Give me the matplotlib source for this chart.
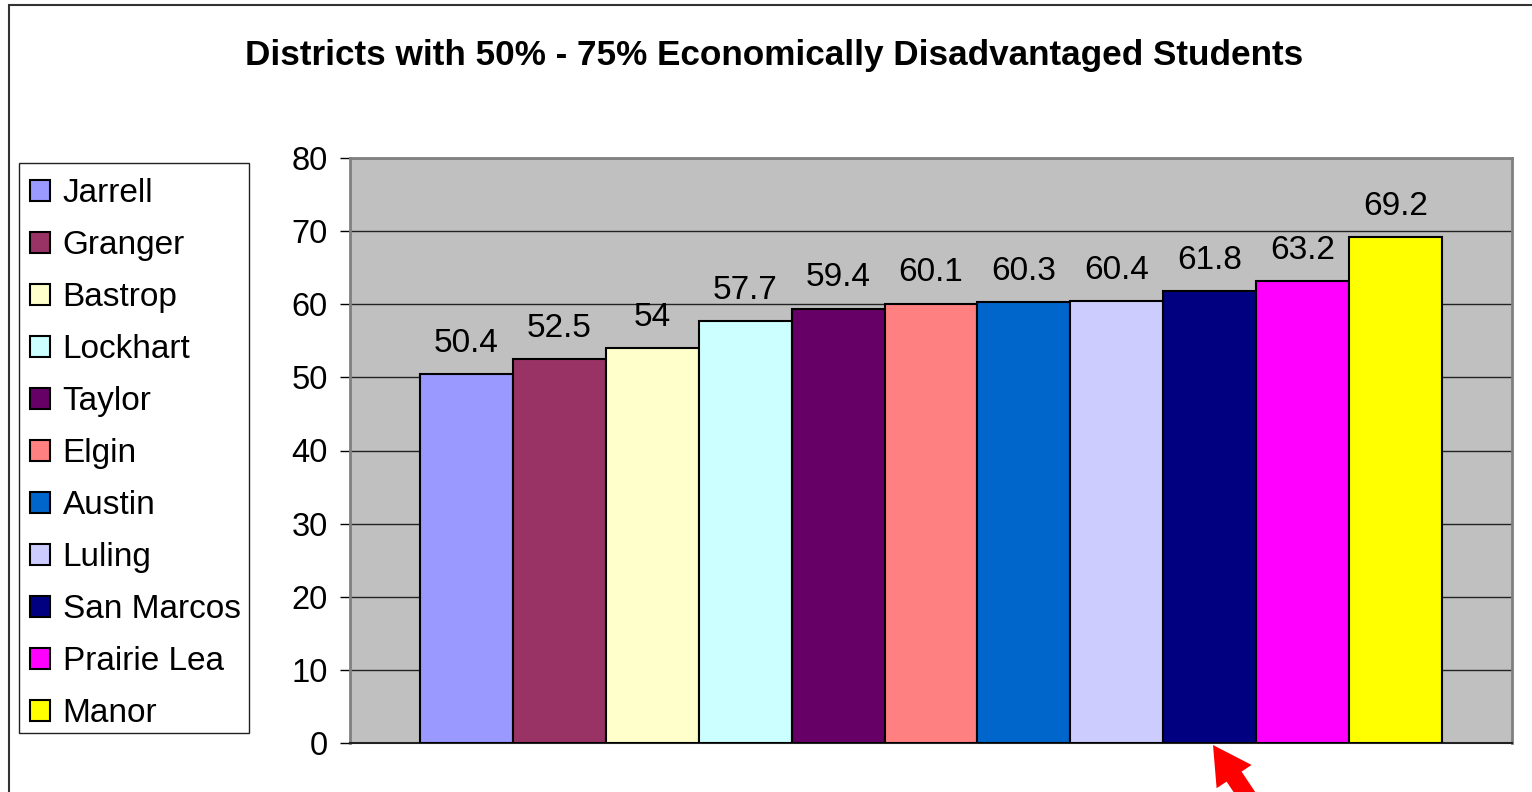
import matplotlib
matplotlib.use("Agg")
from matplotlib import pyplot as plt
from matplotlib.patches import Rectangle, FancyArrow
from matplotlib.transforms import IdentityTransform
import numpy as np

plt.rcParams["font.family"] = ["Liberation Sans", "DejaVu Sans"]

districts = ["Jarrell", "Granger", "Bastrop", "Lockhart", "Taylor", "Elgin",
             "Austin", "Luling", "San Marcos", "Prairie Lea", "Manor"]
values = [50.4, 52.5, 54, 57.7, 59.4, 60.1, 60.3, 60.4, 61.8, 63.2, 69.2]
labels = ["50.4", "52.5", "54", "57.7", "59.4", "60.1", "60.3", "60.4", "61.8", "63.2", "69.2"]
colors = ["#9999FF", "#993366", "#FFFFCC", "#CCFFFF", "#660066", "#FF8080",
          "#0066CC", "#CCCCFF", "#000080", "#FF00FF", "#FFFF00"]
yticks = [0, 10, 20, 30, 40, 50, 60, 70, 80]

W, H = 1532, 792
fig = plt.figure(figsize=(W / 100, H / 100), dpi=100)

# outer chart border
fig.patches.append(Rectangle((9 / W, -0.1), 1.2, 1.1 - 5 / H, transform=fig.transFigure,
                             fill=False, edgecolor="#333333", linewidth=1.5))

ax = fig.add_axes([350 / W, 49 / H, 1162 / W, 585 / H])
ax.set_facecolor("#C0C0C0")

x = np.arange(len(values))
ax.bar(x, values, width=1.0, color=colors, edgecolor="black", linewidth=1.5, zorder=3)
for xi, v, lab in zip(x, values, labels):
    ax.annotate(lab, (xi, v), xytext=(0, 16), textcoords="offset points",
                ha="center", va="baseline", fontsize=24, zorder=4)

ax.set_xlim(-1.25, len(values) - 1 + 1.25)
ax.set_ylim(0, 80)
ax.set_yticks(yticks)
ax.set_xticks([])
ax.yaxis.grid(True, color="#222222", linewidth=1.0, zorder=0)
ax.set_axisbelow(True)
ax.tick_params(axis="y", length=7, width=1, labelsize=23.5, direction="out", pad=9)
for side in ["top", "right", "left"]:
    ax.spines[side].set_color("#808080")
    ax.spines[side].set_linewidth(2)
ax.spines["bottom"].set_color("#222222")
ax.spines["bottom"].set_linewidth(1.5)

fig.text(774 / W, 1 - 55 / H, "Districts with 50% - 75% Economically Disadvantaged Students",
         ha="center", va="center", fontsize=25.3, fontweight="bold")

# legend: entries without frame, box drawn separately to match the reference
handles = [Rectangle((0, 0), 1, 1, facecolor=c, edgecolor="black", linewidth=1.5) for c in colors]
fig.legend(handles, districts, loc="upper left", bbox_to_anchor=(30 / W, 1 - 178 / H),
           bbox_transform=fig.transFigure, borderaxespad=0, borderpad=0, fontsize=24,
           handlelength=0.6, handleheight=0.6, handletextpad=0.38,
           labelspacing=0.63, frameon=False)
fig.patches.append(Rectangle((19, H - 733), 230, 570, transform=IdentityTransform(),
                             fill=False, edgecolor="#222222", linewidth=1))

# red arrow pointing at San Marcos (pixel coordinates)
tip = (1213, H - 745)
tail = (1213 + 0.555 * 90, H - (745 + 0.832 * 90))
fig.patches.append(FancyArrow(tail[0], tail[1], tip[0] - tail[0], tip[1] - tail[1],
                              width=18, head_width=42, head_length=38,
                              length_includes_head=True, transform=IdentityTransform(),
                              color="red", linewidth=0))

fig.savefig("out.png", dpi=100)
